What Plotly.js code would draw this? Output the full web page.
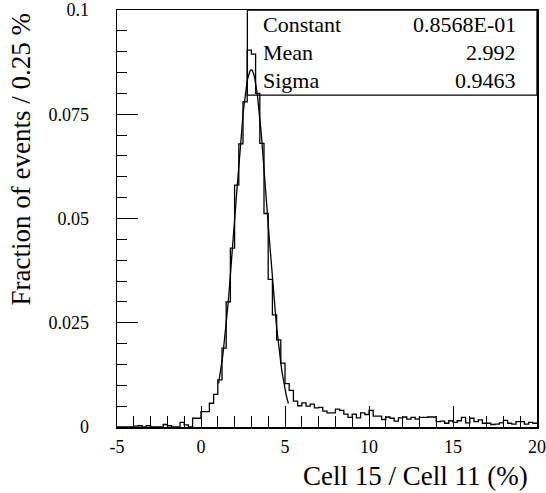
<!DOCTYPE html>
<html>
<head>
<meta charset="utf-8">
<script src="https://cdn.plot.ly/plotly-3.0.1.min.js"></script>
<style>html,body{margin:0;padding:0;background:#fff;}#chart{width:546px;height:493px;}</style>
</head>
<body>
<div id="chart"></div>
<script>
// Bin left edges (width 0.25) from -5 to 19.75
const binWidth = 0.25;
const binStart = -5;
// Fraction of events per bin
const binValues = [
  0, 0, 0, 0, 0.0002, 0.0003, 0, 0.0003, 0, 0,            // -5.00 .. -2.75
  0, 0.0006, 0.0003, 0, 0, 0.0011, 0.0005, 0, 0.0021, 0.0021, // -2.50 .. -0.25
  0.0037, 0.0037, 0.0057, 0.0078, 0.0113, 0.0189, 0.0300, 0.0429, 0.0580, 0.0679, // 0.00 .. 2.25
  0.0780, 0.0904, 0.0894, 0.0800, 0.0680, 0.0512, 0.0354, 0.0269, 0.0209, 0.0153, // 2.50 .. 4.75
  0.0104, 0.0088, 0.0062, 0.0051, 0.0058, 0.0050, 0.0055, 0.0046, 0.0047, 0.0038, // 5.00 .. 7.25
  0.0034, 0.0034, 0.0043, 0.0040, 0.0031, 0.0023, 0.0031, 0.0022, 0.0034, 0.0030, // 7.50 .. 9.75
  0.0040, 0.0026, 0.0026, 0.0018, 0.0024, 0.0021, 0.0014, 0.0022, 0.0024, 0.0019, // 10.00 .. 12.25
  0.0023, 0.0019, 0.0023, 0.0023, 0.0024, 0.0024, 0.0013, 0.0014, 0.0009, 0.0015, // 12.50 .. 14.75
  0.0011, 0.0015, 0.0023, 0.0010, 0.0021, 0.0013, 0.0017, 0.0009, 0.0009, 0.0006, // 15.00 .. 17.25
  0.0007, 0.0010, 0.0016, 0.0009, 0.0007, 0.0013, 0.0013, 0.0007, 0.0011, 0.0009  // 17.50 .. 19.75
];

// Gaussian fit parameters shown in the stats box
const fitConstant = 0.08568;
const fitMean = 2.992;
const fitSigma = 0.9463;
const fitRange = [1.05, 5.2];

const statLabels = ["Constant", "Mean", "Sigma"];
const statValues = ["0.8568E-01", "2.992", "0.9463"];

const xTickVals = [-5, 0, 5, 10, 15, 20];
const xTickText = ["-5", "0", "5", "10", "15", "20"];
const yTickVals = [0, 0.025, 0.05, 0.075, 0.1];
const yTickText = ["0", "0.025", "0.05", "0.075", "0.1"];

const xTitle = "Cell 15 / Cell 11 (%)";
const yTitle = "Fraction of events / 0.25 %";

// Build step outline
const hx = [], hy = [];
binValues.forEach((v, i) => { hx.push(binStart + i * binWidth); hy.push(v); });
hx.push(binStart + binValues.length * binWidth); hy.push(binValues[binValues.length - 1]);

// Fit curve
const fx = [], fy = [];
const nPts = 120;
for (let i = 0; i <= nPts; i++) {
  const x = fitRange[0] + (fitRange[1] - fitRange[0]) * i / nPts;
  fx.push(x);
  fy.push(fitConstant * Math.exp(-0.5 * Math.pow((x - fitMean) / fitSigma, 2)));
}

const FONT = "'Liberation Serif', 'Times New Roman', serif";

const traces = [
  {x: hx, y: hy, type: "scatter", mode: "lines", line: {shape: "hv", color: "black", width: 1.3}, hoverinfo: "skip"},
  {x: fx, y: fy, type: "scatter", mode: "lines", line: {color: "black", width: 1.3}, hoverinfo: "skip"}
];

const annotations = [];
const rowY = [0.966, 0.898, 0.830];
statLabels.forEach((t, i) => {
  annotations.push({xref: "paper", yref: "paper", x: 0.343, y: rowY[i], xanchor: "left", yanchor: "middle",
    text: t, showarrow: false, font: {family: FONT, size: 22, color: "black"}});
  annotations.push({xref: "paper", yref: "paper", x: 0.9547, y: rowY[i], xanchor: "right", yanchor: "middle",
    text: statValues[i], showarrow: false, font: {family: FONT, size: 22, color: "black"}});
});
annotations.push({xref: "paper", yref: "paper", x: 0.983, y: -0.118, xanchor: "right", yanchor: "middle",
  text: xTitle, showarrow: false, font: {family: FONT, size: 27, color: "black"}});
annotations.push({xref: "paper", yref: "paper", x: -0.228, y: 0.997, xanchor: "center", yanchor: "top",
  textangle: -90, text: yTitle, showarrow: false, font: {family: FONT, size: 27, color: "black"}});

const layout = {
  width: 546, height: 493,
  margin: {l: 117, r: 9, t: 10, b: 66},
  paper_bgcolor: "white", plot_bgcolor: "white",
  showlegend: false,
  font: {family: FONT, size: 18, color: "black"},
  xaxis: {
    range: [-5, 20], tickvals: xTickVals, ticktext: xTickText, ticks: "inside", ticklen: 21, tickwidth: 1, tickcolor: "black",
    minor: {dtick: 1, tick0: 0, ticks: "inside", ticklen: 11, tickwidth: 1, tickcolor: "black", showgrid: false},
    showline: true, linecolor: "black", linewidth: 1.5, mirror: true, showgrid: false, zeroline: false,
    ticklabelstandoff: 3, tickfont: {family: FONT, size: 18, color: "black"}
  },
  yaxis: {
    range: [0, 0.1], tickvals: yTickVals, ticktext: yTickText, ticks: "inside", ticklen: 21, tickwidth: 1, tickcolor: "black",
    minor: {dtick: 0.005, tick0: 0, ticks: "inside", ticklen: 10, tickwidth: 1, tickcolor: "black", showgrid: false},
    showline: true, linecolor: "black", linewidth: 1.5, mirror: true, showgrid: false, zeroline: false,
    ticklabelstandoff: 23, tickfont: {family: FONT, size: 18, color: "black"}
  },
  shapes: [
    {type: "rect", xref: "paper", yref: "paper", x0: 0.3104, x1: 1, y0: 0.796, y1: 1,
      line: {color: "black", width: 1.3}, fillcolor: "rgba(0,0,0,0)", layer: "above"}
  ],
  annotations: annotations
};

Plotly.newPlot("chart", traces, layout, {staticPlot: true, displayModeBar: false});
</script>
</body>
</html>
